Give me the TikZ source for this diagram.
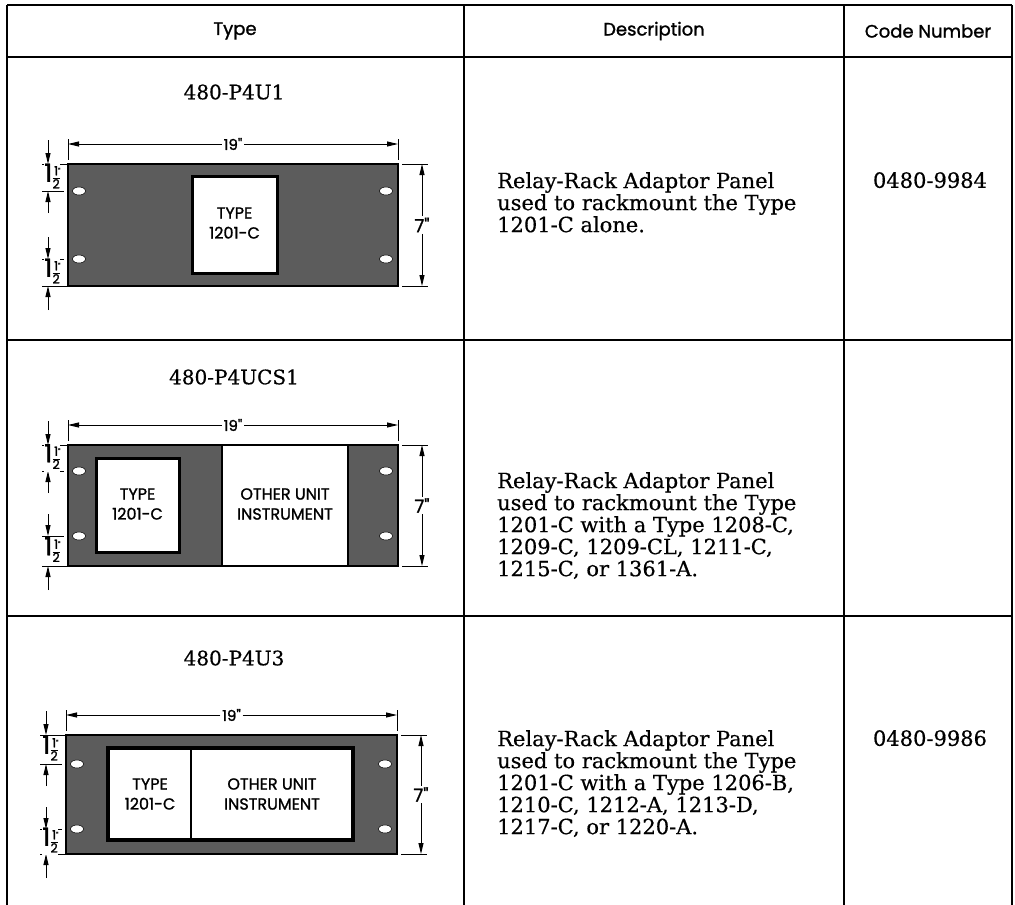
\documentclass[tikz,border=0pt]{standalone}
\usepackage{fontspec}
\setmainfont{DejaVu Serif}[FakeBold=0.5]
\setsansfont{Poppins}
\newfontfamily\medsans{Poppins}[FakeBold=1.3]
\usetikzlibrary{arrows.meta}
\newcommand{\halfin}{{\medsans\setlength{\tabcolsep}{0pt}\setlength{\arrayrulewidth}{1pt}\renewcommand{\arraystretch}{0.78}\fontsize{25}{25}\selectfont 1\hspace{0.3pt}\fontsize{12.5}{12.5}\selectfont\begin{tabular}[c]{@{}c@{}}1\rlap{\fontsize{8}{8}\selectfont\raisebox{1pt}{"}}\\\hline 2\end{tabular}}}
\newcommand{\rackdims}[8]{%
  \draw[dimln] (#2,#8-5) -- (#2,#4-4);
  \draw[dimln] (#3,#8-5) -- (#3,#4-4);
  \node[dimlbl] (#1w) at ({(#2+#3)/2},#8) {19"};
  \draw[dimln,dimarr] (#1w.west) -- (#2,#8);
  \draw[dimln,dimarr] (#1w.east) -- (#3,#8);
  \draw[dimln] (#3+4,#4) -- (#3+30,#4);
  \draw[dimln] (#3+4,#5) -- (#3+30,#5);
  \node[dimlbl,font=\medsans\fontsize{18}{18}\selectfont] (#1h) at (#3+24,{(#4+#5)/2}) {7"};
  \draw[dimln,dimarr] (#1h.north) -- (#3+24,#4);
  \draw[dimln,dimarr] (#1h.south) -- (#3+24,#5);
  \draw[dimln] (#2-26,#4) -- (#2,#4);
  \draw[dimln] (#2-26,#6) -- (#2-4,#6);
  \draw[dimln] (#2-26,#7) -- (#2-4,#7);
  \draw[dimln] (#2-26,#5) -- (#2,#5);
  \draw[dimln,dimarr] (#2-20,#4-24) -- (#2-20,#4);
  \draw[dimln,dimarr] (#2-20,#6+22) -- (#2-20,#6);
  \draw[dimln,dimarr] (#2-20,#7-22) -- (#2-20,#7);
  \draw[dimln,dimarr] (#2-20,#5+24) -- (#2-20,#5);
  \node[halfl] (#1a) at (#2-16,{(#4+#6)/2}) {\halfin};
  \node[halfl] (#1b) at (#2-16,{(#7+#5)/2}) {\halfin};
}
\newcommand{\rackholes}[4]{%
  \foreach \hx in {#1+11,#2-12}{\foreach \hy in {#3,#4}{\filldraw[hole] (\hx,\hy) ellipse (6.5 and 4);}}%
}
\tikzset{
  tline/.style={line width=1.3pt},
  dimln/.style={line width=1pt},
  dimarr/.style={-{Triangle[length=11pt,width=5pt]}},
  dimlbl/.style={font=\medsans\fontsize{15}{15}\selectfont, fill=white, inner sep=1.5pt},
  halfl/.style={inner sep=0pt, fill=white},
  panel/.style={draw=black, line width=2.4pt, fill=black!64},
  win/.style={draw=black, line width=3pt, fill=white},
  hole/.style={draw=black, line width=0.5pt, fill=white},
  plabel/.style={font=\medsans\fontsize{16}{20}\selectfont, align=center, inner sep=0pt},
  hdr/.style={font=\medsans\fontsize{18}{18}\selectfont, inner sep=0pt},
  ttl/.style={font=\fontsize{20}{20}\selectfont, inner sep=0pt},
  desc/.style={font=\fontsize{21}{22}\selectfont, align=left, inner sep=0pt, anchor=north west},
  code/.style={font=\fontsize{21}{22}\selectfont, inner sep=0pt, anchor=north},
}
\begin{document}
\begin{tikzpicture}[x=1pt,y=-1pt]
\useasboundingbox (0,0) rectangle (1015,905);
% table
\draw[tline] (7,5) -- (1012,5);
\draw[line width=2.2pt] (7,57) -- (1012,57);
\draw[tline] (7,340) -- (1012,340);
\draw[tline] (7,616) -- (1012,616);
\foreach \vx in {7,464,844,1012}{\draw[tline] (\vx,5) -- (\vx,905);}
\node[hdr] (h1) at (235,31) {Type};
\node[hdr] (h2) at (654,31) {Description};
\node[hdr] (h3) at (928,31) {Code Number};
% row 1
\node[ttl] (r1t) at (234,92) {480-P4U1};
\draw[panel] (68,164) rectangle (398,286);
\rackholes{68}{398}{191}{259}
\draw[win] (192,176) rectangle (277,273);
\node[plabel] (r1a) at (234.5,223) {TYPE\\1201-C};
\rackdims{pa}{68}{398}{164}{286}{191}{259}{144}
\node[desc] (r1d) at (497,172) {Relay-Rack Adaptor Panel\\used to rackmount the Type\\1201-C alone.};
\node[code] (r1c) at (930,172) {0480-9984};
% row 2
\node[ttl] (r2t) at (234,377) {480-P4UCS1};
\draw[panel] (68,445) rectangle (398,566);
\rackholes{68}{398}{471}{536}
\draw[win] (96,458) rectangle (179,552);
\draw[draw=black, line width=2.4pt, fill=white] (222,445) rectangle (348,566);
\node[plabel] (r2a) at (137.5,504) {TYPE\\1201-C};
\node[plabel] (r2b) at (285,504) {OTHER UNIT\\INSTRUMENT};
\rackdims{pb}{68}{398}{445}{566}{471}{536}{425}
\node[desc] (r2d) at (497,472) {Relay-Rack Adaptor Panel\\used to rackmount the Type\\1201-C with a Type 1208-C,\\1209-C, 1209-CL, 1211-C,\\1215-C, or 1361-A.};
% row 3
\node[ttl] (r3t) at (234,658) {480-P4U3};
\draw[panel] (66,735) rectangle (397,854);
\rackholes{66}{397}{764}{829}
\draw[win, line width=4pt] (108,748) rectangle (353,840);
\draw[line width=2pt] (191,748) -- (191,840);
\node[plabel] (r3a) at (150,794) {TYPE\\1201-C};
\node[plabel] (r3b) at (272,794) {OTHER UNIT\\INSTRUMENT};
\rackdims{pc}{66}{397}{735}{854}{764}{829}{715}
\node[desc] (r3d) at (497,730) {Relay-Rack Adaptor Panel\\used to rackmount the Type\\1201-C with a Type 1206-B,\\1210-C, 1212-A, 1213-D,\\1217-C, or 1220-A.};
\node[code] (r3c) at (930,730) {0480-9986};
\end{tikzpicture}
\end{document}
